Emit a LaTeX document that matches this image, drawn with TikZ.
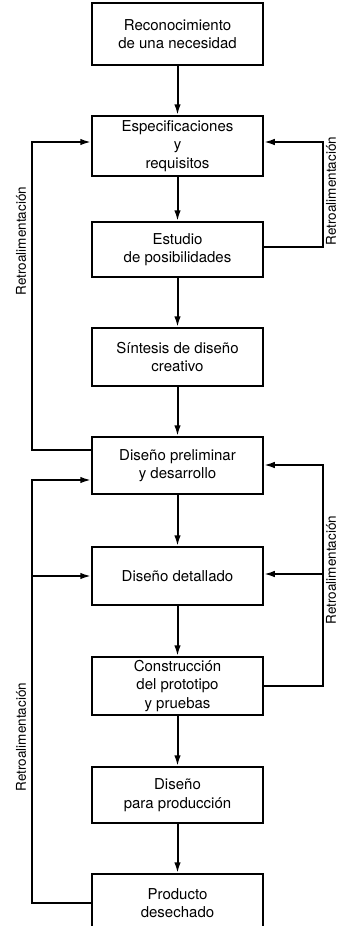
\documentclass[tikz,border=0pt]{standalone}
\usepackage{fontspec}
\setmainfont{TeX Gyre Heros}
\usetikzlibrary{arrows.meta}

\begin{document}
\begin{tikzpicture}[>={Latex[length=11pt,width=6.5pt]},x=1pt,y=-1pt]

        % Styles
        \tikzset{
          stage/.style={draw,line width=1.5pt,minimum width=171pt,
                        minimum height=58pt,inner sep=0pt,align=center,
                        font=\fontsize{15}{18.5}\selectfont},
          flow/.style={->,line width=2pt},
          fbtext/.style={rotate=90,inner sep=0pt,
                         font=\fontsize{13.5}{15}\selectfont}
        }

        \useasboundingbox (0,0) rectangle (337,926);

        % x for the stages and the two feedback trunks
        \def\xc{177.5}
        \def\xL{33}
        \def\xR{322}

        %-------------------------------
        % Stages
        %-------------------------------
        \node[stage,minimum height=62pt] (B1) at (\xc,34)  {Reconocimiento\\de una necesidad};
        \node[stage,minimum height=60pt] (B2) at (\xc,146) {Especificaciones\\y\\requisitos};
        \node[stage,minimum height=55pt] (B3) at (\xc,249.5) {Estudio\\de posibilidades};
        \node[stage] (B4) at (\xc,357)   {Síntesis de diseño\\creativo};
        \node[stage,minimum height=57pt] (B5) at (\xc,465.5) {Diseño preliminar\\y desarrollo};
        \node[stage] (B6) at (\xc,576)   {Diseño detallado};
        \node[stage] (B7) at (\xc,686)   {Construcción\\del prototipo\\y pruebas};
        \node[stage,minimum height=56pt] (B8) at (\xc,795) {Diseño\\para producción};
        \node[stage] (B9) at (\xc,903)   {Producto\\desechado};

        % Main flow
        \foreach \a/\b in {B1/B2,B2/B3,B3/B4,B4/B5,B5/B6,B6/B7,B7/B8,B8/B9}
            \draw[flow] (\a) -- (\b);

        %-------------------------------
        % Feedback on the left
        %-------------------------------
        \draw[flow] ([yshift=15.5pt]B5.west) -- ++(\xL-92,0)
                    |- ([yshift=4pt]B2.west);

        \coordinate (L6) at (\xL,576);
        \draw[flow] (B9.west) -- ++(\xL-92,0)
                    |- ([yshift=-14.5pt]B5.west);
        \draw[flow] (L6) -- (B6.west);

        %-------------------------------
        % Feedback on the right
        %-------------------------------
        \draw[flow] ([yshift=2.5pt]B3.east) -- ++(\xR-263,0)
                    |- ([yshift=4pt]B2.east);

        \coordinate (R6) at (\xR,574);
        \draw[flow] (B7.east) -- ++(\xR-263,0)
                    |- ([yshift=0.5pt]B5.east);
        \draw[flow] (R6) -- ([yshift=2pt]B6.east);

        %---------------------------------
        % Labels
        %---------------------------------
        \node[fbtext] (tL1) at (21,241) {Retroalimentación};
        \node[fbtext] (tL2) at (21,737) {Retroalimentación};
        \node[fbtext] (tR1) at (331,191) {Retroalimentación};
        \node[fbtext] (tR2) at (331,570) {Retroalimentación};

\end{tikzpicture}
\end{document}
